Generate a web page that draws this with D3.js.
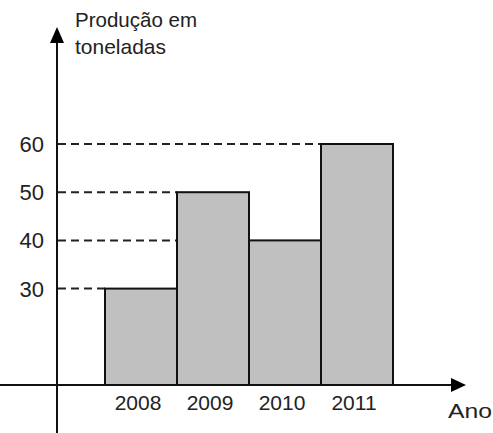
<!DOCTYPE html>
<html>
<head>
<meta charset="utf-8">
<script src="https://cdn.jsdelivr.net/npm/d3@7"></script>
<style>
  html, body { margin: 0; padding: 0; background: #fff; }
  text { font-family: "Liberation Sans", Arial, sans-serif; fill: #222; }
</style>
</head>
<body>
<svg id="chart" width="493" height="433"></svg>
<script>
const years = ["2008", "2009", "2010", "2011"];
const production = [30, 50, 40, 60];
const tickValues = [30, 40, 50, 60];
const yTitle = ["Produção em", "toneladas"];
const xTitle = "Ano";

const svg = d3.select("#chart");
const axisX = 57, axisY = 385;

const x = d3.scaleBand().domain(years).range([105, 393]).paddingInner(0).paddingOuter(0);
const y = d3.scaleLinear().domain([10, 60]).range([axisY, 144]);

// dashed guide lines
tickValues.forEach(v => {
  const idx = production.indexOf(v);
  const endX = x(years[idx]);
  svg.append("line")
    .attr("x1", axisX + 1).attr("x2", endX)
    .attr("y1", y(v)).attr("y2", y(v))
    .attr("stroke", "#222").attr("stroke-width", 2)
    .attr("stroke-dasharray", "8,5");
});

// bars
svg.selectAll("rect.bar").data(years).enter().append("rect")
  .attr("class", "bar")
  .attr("x", d => x(d))
  .attr("width", x.bandwidth())
  .attr("y", (d, i) => y(production[i]))
  .attr("height", (d, i) => axisY - y(production[i]))
  .attr("fill", "#c0c0c0")
  .attr("stroke", "#111")
  .attr("stroke-width", 2);

// y tick labels
svg.selectAll("text.ytick").data(tickValues).enter().append("text")
  .attr("class", "ytick")
  .attr("x", 44)
  .attr("y", d => y(d))
  .attr("dy", "0.36em")
  .attr("text-anchor", "end")
  .attr("font-size", 22)
  .text(d => d);

// x labels
svg.selectAll("text.xtick").data(years).enter().append("text")
  .attr("class", "xtick")
  .attr("x", d => x(d) + x.bandwidth() / 2 - 3)
  .attr("y", 410)
  .attr("text-anchor", "middle")
  .attr("font-size", 21)
  .text(d => d);

// axes
svg.append("line").attr("x1", axisX).attr("x2", axisX).attr("y1", 40).attr("y2", 433)
  .attr("stroke", "#111").attr("stroke-width", 2);
svg.append("path").attr("d", `M${axisX},27 L${axisX + 7},43 L${axisX - 7},43 Z`).attr("fill", "#000");

svg.append("line").attr("x1", 0).attr("x2", 454).attr("y1", axisY).attr("y2", axisY)
  .attr("stroke", "#111").attr("stroke-width", 2);
svg.append("path").attr("d", `M466,${axisY} L451,${axisY - 7} L451,${axisY + 7} Z`).attr("fill", "#000");

// titles
const titleLens = [122, 91];
yTitle.forEach((t, i) => {
  svg.append("text").attr("x", 75).attr("y", 27 + i * 27)
    .attr("font-size", 21)
    .attr("textLength", titleLens[i]).attr("lengthAdjust", "spacingAndGlyphs")
    .text(t);
});
svg.append("text").attr("x", 448).attr("y", 418).attr("font-size", 21)
  .attr("textLength", 44).attr("lengthAdjust", "spacingAndGlyphs")
  .text(xTitle);
</script>
</body>
</html>
